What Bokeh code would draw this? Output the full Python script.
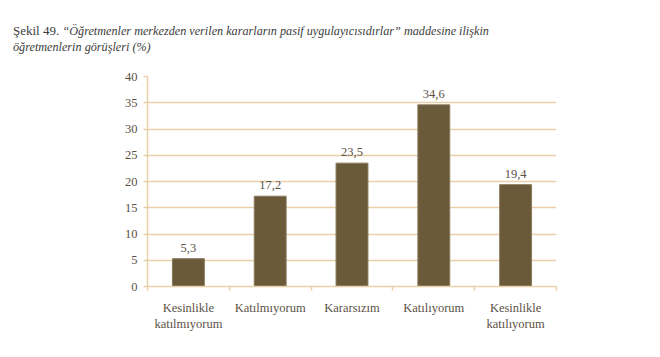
from bokeh.plotting import figure
from bokeh.models import Range1d, FixedTicker, Div
from bokeh.layouts import column
from bokeh.core.properties import value
from bokeh.embed import file_html
from bokeh.resources import INLINE

categories = ["Kesinlikle\nkatılmıyorum", "Katılmıyorum", "Kararsızım", "Katılıyorum", "Kesinlikle\nkatılıyorum"]
values = [5.3, 17.2, 23.5, 34.6, 19.4]
y_ticks = [0, 5, 10, 15, 20, 25, 30, 35, 40]
title_prefix = "Şekil 49."
title_line1 = "“Öğretmenler merkezden verilen kararların pasif uygulayıcısıdırlar” maddesine ilişkin"
title_line2 = "öğretmenlerin görüşleri (%)"

FONT = "Liberation Serif"
TXT = "#5b5246"
GRID = "#ebcfa8"
BAR = "#6b5a3a"
TC = "#3c3c3c"
W = 652
TH = 60

# ---- title strip ----
ital = "font-style:italic;font-size:12.2px"
title = Div(
    text=(f"<span>{title_prefix}</span> <span style='{ital}'>{title_line1}</span><br>"
          f"<span style='{ital}'>{title_line2}</span>"),
    width=W, height=TH, margin=0,
    styles={"font-family": "'Liberation Serif', serif", "font-size": "13px", "color": TC,
            "line-height": "16px", "padding-left": "13px", "padding-top": "22.5px",
            "box-sizing": "border-box", "white-space": "nowrap"},
)

# ---- chart ----
xs = [i + 0.5 for i in range(len(categories))]
labels = [f"{v:.1f}".replace(".", ",") for v in values]

p = figure(width=W, height=349 - TH, frame_width=409, frame_height=210,
           min_border_left=147, min_border_right=96, min_border_top=76 - TH, min_border_bottom=63,
           x_range=Range1d(0, len(categories)), y_range=Range1d(0, 40),
           output_backend="svg", toolbar_location=None, tools="")
p.outline_line_color = None
p.background_fill_color = "white"

p.vbar(x=xs, top=values, width=0.39, fill_color=BAR, line_color="#8a7a5c", line_width=1)
p.text(x=xs, y=values, text=labels, text_font=value(FONT), text_font_size="12.5px",
       text_color=TXT, text_align="center", text_baseline="bottom", y_offset=-7)

xa = p.xaxis[0]
xa.ticker = FixedTicker(ticks=xs, minor_ticks=list(range(len(categories) + 1)))
xa.major_label_overrides = {x: c for x, c in zip(xs, categories)}
xa.major_tick_line_color = None
xa.minor_tick_line_color = GRID
xa.minor_tick_line_width = 1.5
xa.minor_tick_out = 4
xa.minor_tick_in = 0
xa.axis_line_color = GRID
xa.axis_line_width = 1.5
xa.major_label_text_font = FONT
xa.major_label_text_font_size = "12.5px"
xa.major_label_text_color = TXT
xa.major_label_standoff = 8

ya = p.yaxis[0]
ya.ticker = FixedTicker(ticks=y_ticks, minor_ticks=[])
ya.major_tick_line_color = GRID
ya.major_tick_line_width = 1.5
ya.major_tick_out = 4
ya.major_tick_in = 0
ya.axis_line_color = GRID
ya.axis_line_width = 1.5
ya.major_label_text_font = FONT
ya.major_label_text_font_size = "12.5px"
ya.major_label_text_color = TXT
ya.major_label_standoff = 6

p.xgrid.grid_line_color = None
p.ygrid.grid_line_color = GRID
p.ygrid.grid_line_width = 1.5

layout = column(title, p, spacing=0)
open("out.html", "w").write(file_html(layout, INLINE))
